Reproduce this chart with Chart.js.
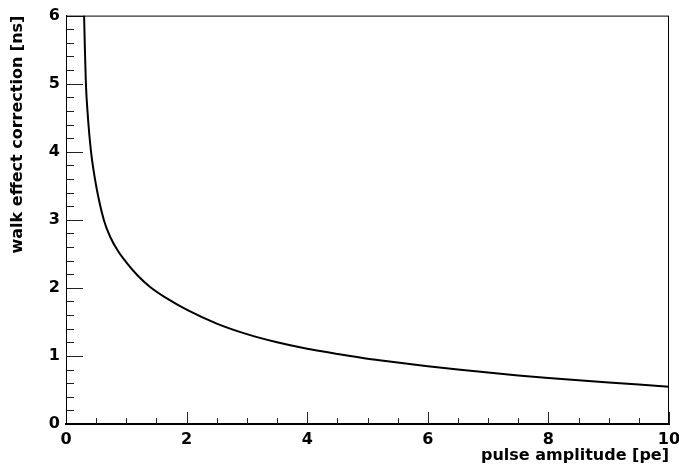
<!DOCTYPE html>
<html>
<head>
<meta charset="utf-8">
<script src="https://cdn.jsdelivr.net/npm/chart.js@4.4.1/dist/chart.umd.min.js"></script>
<style>
  html, body { margin: 0; padding: 0; background: #fff; }
  canvas { display: block; }
</style>
</head>
<body>
<canvas id="walkChart" width="679" height="469"></canvas>
<script>
// values
const pulseAmplitude = [0.30, 0.315, 0.33, 0.36, 0.415, 0.50, 0.63, 0.73, 0.86, 1.0, 1.2, 1.4, 1.7, 2.0, 2.5, 3.0, 3.5, 4.0, 4.5, 5.0, 5.5, 6.0, 6.5, 7.0, 7.5, 8.0, 8.5, 9.0, 9.5, 10.0];
const walkCorrection = [6.0, 5.45, 5.0, 4.55, 4.0, 3.5, 2.99, 2.755, 2.545, 2.375, 2.17, 2.01, 1.83, 1.68, 1.475, 1.32, 1.2, 1.105, 1.03, 0.96, 0.905, 0.85, 0.8, 0.755, 0.714, 0.676, 0.641, 0.609, 0.579, 0.547];

const xTitle = "pulse amplitude [pe]";
const yTitle = "walk effect correction [ns]";

const labelFont = { family: "'DejaVu Sans', sans-serif", size: 16, weight: "bold" };

// ROOT style ticks drawn inside the frame, plus the closing frame
const insideTicks = {
  id: "insideTicks",
  afterDatasetsDraw(chart) {
    const { ctx, chartArea } = chart;
    const xs = chart.scales.x;
    const ys = chart.scales.y;
    ctx.save();
    ctx.strokeStyle = "#222";
    ctx.lineWidth = 1;
    ctx.beginPath();
    for (let i = 0; i <= 30; i++) {
      const py = Math.round(ys.getPixelForValue(i * 0.2)) + 0.5;
      const len = i % 5 === 0 ? 17 : 8;
      ctx.moveTo(chartArea.left, py);
      ctx.lineTo(chartArea.left + len, py);
    }
    for (let i = 0; i <= 20; i++) {
      const px = Math.round(xs.getPixelForValue(i * 0.5)) + 0.5;
      const len = i % 4 === 0 ? 12 : 6;
      ctx.moveTo(px, chartArea.bottom);
      ctx.lineTo(px, chartArea.bottom - len);
    }
    ctx.stroke();
    ctx.strokeStyle = "#000";
    ctx.strokeRect(chartArea.left + 0.5, chartArea.top + 0.5,
      chartArea.right - chartArea.left - 1, chartArea.bottom - chartArea.top);
    ctx.restore();
  },
};

const ctx = document.getElementById("walkChart");

const config = {
  type: "line",
  data: {
    datasets: [
      {
        data: pulseAmplitude.map((x, i) => ({ x: x, y: walkCorrection[i] })),
        borderColor: "#000",
        borderWidth: 2,
        pointRadius: 0,
        fill: false,
        cubicInterpolationMode: "monotone",
      },
    ],
  },
  options: {
    responsive: false,
    animation: false,
    devicePixelRatio: 1,
    layout: { padding: { top: 14, right: 10, left: 0, bottom: 0 } },
    plugins: {
      legend: { display: false },
      tooltip: { enabled: false },
    },
    scales: {
      x: {
        type: "linear",
        min: 0,
        max: 10,
        afterFit: (s) => {
          s.height = 45;
          s.paddingLeft = 0;
          s.paddingRight = 0;
        },
        grid: { display: false, drawTicks: false },
        border: { display: true, color: "#000", width: 2 },
        ticks: {
          stepSize: 2,
          padding: 6,
          color: "#000",
          font: labelFont,
          maxRotation: 0,
        },
        title: {
          display: true,
          text: xTitle,
          align: "end",
          color: "#000",
          font: labelFont,
          padding: { top: 0, bottom: 4 },
        },
      },
      y: {
        type: "linear",
        min: 0,
        max: 6,
        afterFit: (s) => { s.width = 66; },
        grid: { display: false, drawTicks: false },
        border: { display: true, color: "#000", width: 1 },
        ticks: {
          stepSize: 1,
          padding: 6,
          color: "#000",
          font: labelFont,
        },
        title: {
          display: true,
          text: yTitle,
          align: "end",
          color: "#000",
          font: labelFont,
          padding: { top: 8, bottom: 0 },
        },
      },
    },
  },
  plugins: [insideTicks],
};

new Chart(ctx, config);
</script>
</body>
</html>
